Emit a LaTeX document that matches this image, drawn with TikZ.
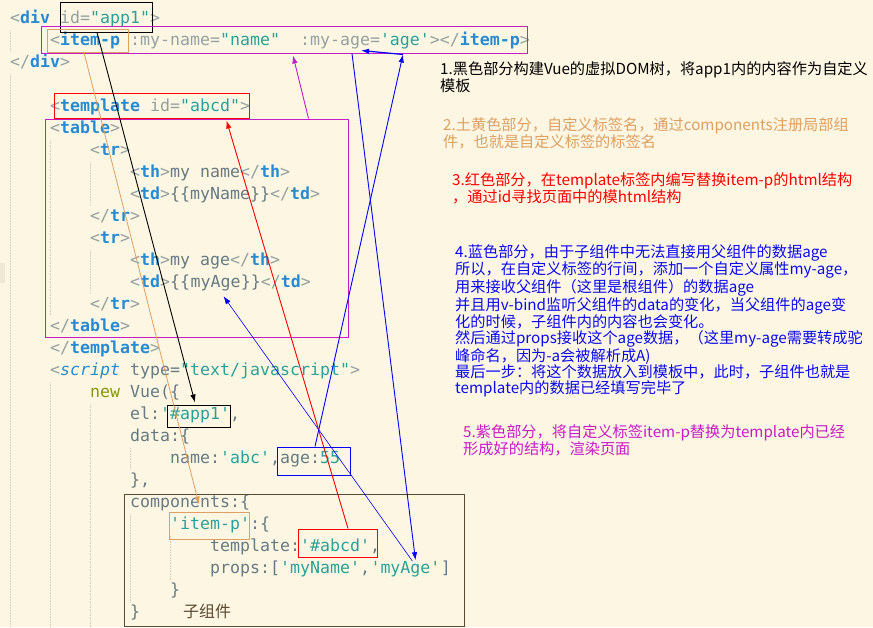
\documentclass[tikz,border=0pt]{standalone}
\usepackage{fontspec}
\setmonofont{DejaVu Sans Mono}
\newfontfamily\cjk{Noto Sans CJK SC}
\usepackage{xcolor}
\usetikzlibrary{arrows.meta, positioning}
\definecolor{paper}{HTML}{FDF6E3}
\definecolor{curline}{HTML}{EEE8D5}
\definecolor{guidegray}{HTML}{D3CDBB}
\definecolor{punct}{HTML}{93A1A1}
\definecolor{tagblue}{HTML}{268BD2}
\definecolor{strteal}{HTML}{2AA198}
\definecolor{plaingray}{HTML}{657B83}
\definecolor{kwolive}{HTML}{859900}
\definecolor{sandy}{HTML}{DDA062}
\definecolor{violetpart}{HTML}{C71BC7}
\definecolor{bluepart}{HTML}{0A0AF0}
\definecolor{brownbox}{HTML}{5A4A30}
\newcommand\cpu[1]{\textcolor{punct}{#1}}
\newcommand\ctag[1]{\textcolor{tagblue}{\bfseries #1}}
\newcommand\cstr[1]{\textcolor{strteal}{#1}}
\newcommand\cpl[1]{\textcolor{plaingray}{#1}}
\begin{document}
\begin{tikzpicture}[x=1pt, y=-1pt, >={Latex[length=8pt,width=5.5pt]},
  codeline/.style={anchor=base west, inner sep=0pt, font=\ttfamily\fontsize{16.6}{20}\selectfont},
  remark/.style={anchor=north west, inner sep=0pt, align=left, font=\cjk\fontsize{15.2}{16}\selectfont},
  markbox/.style={draw, line width=1pt, inner sep=0pt},
  pointer/.style={->, line width=0.9pt},
  guide/.style={draw=guidegray, densely dotted, line width=0.6pt}]
\useasboundingbox (0,0) rectangle (873,627);
\fill[paper] (0,0) rectangle (873,627);
\fill[curline] (0,263) rectangle (5,283);
\draw[guide] (10,30) -- (10,52);
\draw[guide] (10,74) -- (10,627);
\draw[guide] (50,140) -- (50,315);
\draw[guide] (50,382) -- (50,627);
\draw[guide] (90,162) -- (90,205);
\draw[guide] (90,250) -- (90,293);
\draw[guide] (90,404) -- (90,627);
\draw[guide] (130,448) -- (130,470);
\draw[guide] (130,514) -- (130,603);
\draw[guide] (170,536) -- (170,580);
% code
\node[codeline] (l1) at (10,23.5) {\cpu{<}\ctag{div} \cpu{id=}\cstr{"app1"}\cpu{>}};
\node[codeline] (l2) at (50,45.5) {\cpu{<}\ctag{item-p} \cpu{:my-name=}\cstr{"name"}\ \ \cpu{:my-age=}\cstr{'age'}\cpu{></}\ctag{item-p}\cpu{>}};
\node[codeline] (l3) at (10,67.5) {\cpu{</}\ctag{div}\cpu{>}};
\node[codeline] (l5) at (50,111.5) {\cpu{<}\ctag{template} \cpu{id=}\cstr{"abcd"}\cpu{>}};
\node[codeline] (l6) at (50,133.5) {\cpu{<}\ctag{table}\cpu{>}};
\node[codeline] (l7) at (90,155.5) {\cpu{<}\ctag{tr}\cpu{>}};
\node[codeline] (l8) at (130,177.5) {\cpu{<}\ctag{th}\cpu{>}\cpl{my name}\cpu{</}\ctag{th}\cpu{>}};
\node[codeline] (l9) at (130,199.5) {\cpu{<}\ctag{td}\cpu{>}\cpl{\{\{myName\}\}}\cpu{</}\ctag{td}\cpu{>}};
\node[codeline] (l10) at (90,221.5) {\cpu{</}\ctag{tr}\cpu{>}};
\node[codeline] (l11) at (90,243.5) {\cpu{<}\ctag{tr}\cpu{>}};
\node[codeline] (l12) at (130,265.5) {\cpu{<}\ctag{th}\cpu{>}\cpl{my age}\cpu{</}\ctag{th}\cpu{>}};
\node[codeline] (l13) at (130,287.5) {\cpu{<}\ctag{td}\cpu{>}\cpl{\{\{}};
\node[codeline, base right=0pt of l13] (tdage) {\cpl{myAge}};
\node[codeline, base right=0pt of tdage] (l13b) {\cpl{\}\}}\cpu{</}\ctag{td}\cpu{>}};
\node[codeline] (l14) at (90,309.5) {\cpu{</}\ctag{tr}\cpu{>}};
\node[codeline] (l15) at (50,331.5) {\cpu{</}\ctag{table}\cpu{>}};
\node[codeline] (l16) at (50,353.5) {\cpu{</}\ctag{template}\cpu{>}};
\node[codeline] (l17) at (50,375.5) {\cpu{<}\textcolor{tagblue}{\itshape script} \cpl{type=}\cstr{"text/javascript"}\cpu{>}};
\node[codeline] (l18) at (90,397.5) {\textcolor{kwolive}{new} \cpl{Vue(\{}};
\node[codeline] (l19) at (130,419.5) {\cpl{el:}\cstr{'\#app1'}\cpl{,}};
\node[codeline] (l20) at (130,441.5) {\cpl{data:\{}};
\node[codeline] (l21) at (170,463.5) {\cpl{name:}\cstr{'abc'}\cpl{,age:}\cstr{55}};
\node[codeline] (l22) at (130,485.5) {\cpl{\},}};
\node[codeline] (l23) at (130,507.5) {\cpl{components:\{}};
\node[codeline] (l24) at (170,529.5) {\cstr{'item-p'}\cpl{:\{}};
\node[codeline] (l25) at (210,551.5) {\cpl{template:}\cstr{'\#abcd'}\cpl{,}};
\node[codeline] (l26) at (210,573.5) {\cpl{props:[}\cstr{'myName'}\cpl{,}};
\node[codeline, base right=0pt of l26] (propage) {\cstr{'myAge'}};
\node[codeline, base right=0pt of propage] (l26b) {\cpl{]}};
\node[codeline] (l27) at (170,595.5) {\cpl{\}}};
\node[codeline] (l28) at (130,617.5) {\cpl{\}}};
\node[anchor=base west, inner sep=0pt, font=\cjk\fontsize{16}{16}\selectfont, text=brownbox] (sub) at (183,617.5) {子组件};
% boxes
\node[markbox, draw=black, minimum width=92pt, minimum height=30pt] (appbox) at (106,17) {};
\node[markbox, draw=violetpart, minimum width=486pt, minimum height=27pt] (itembar) at (284,39.5) {};
\node[markbox, draw=sandy, minimum width=81pt, minimum height=23pt] (itemtag) at (87.5,40.5) {};
\node[markbox, draw=red, minimum width=195pt, minimum height=25pt] (tplid) at (151.5,105.5) {};
\node[markbox, draw=violetpart, minimum width=303pt, minimum height=218pt] (tablebox) at (196.5,228) {};
\node[markbox, draw=black, minimum width=63pt, minimum height=22pt] (elbox) at (198.5,416) {};
\node[markbox, draw=blue, minimum width=73pt, minimum height=28pt] (agebox) at (313.5,461) {};
\node[markbox, draw=brownbox, minimum width=340pt, minimum height=132pt] (compbox) at (294,560) {};
\node[markbox, draw=sandy, minimum width=80pt, minimum height=27pt] (itemname) at (209,525.5) {};
\node[markbox, draw=red, minimum width=79pt, minimum height=28pt] (tplref) at (337.5,543) {};
% notes
\node[remark] (n1) at (440,61) {1.黑色部分构建Vue的虚拟DOM树，将app1内的内容作为自定义\\模板};
\node[remark, text=sandy] (n2) at (443,117) {2.土黄色部分，自定义标签名，通过components注册局部组\\件，也就是自定义标签的标签名};
\node[remark, text=red] (n3) at (452,172) {3.红色部分，在template标签内编写替换item-p的html结构\\，通过id寻找页面中的模html结构};
\node[remark, text=bluepart] (n4) at (455,244) {4.蓝色部分，由于子组件中无法直接用父组件的数据age\\所以，在自定义标签的行间，添加一个自定义属性my-age，\\用来接收父组件（这里是根组件）的数据age\\并且用v-bind监听父组件的data的变化，当父组件的age变\\化的时候，子组件内的内容也会变化。\\然后通过props接收这个age数据，（这里my-age需要转成驼\\峰命名，因为-a会被解析成A)\\最后一步：将这个数据放入到模板中，此时，子组件也就是\\template内的数据已经填写完毕了};
\node[remark, text=violetpart] (n5) at (463,424) {5.紫色部分，将自定义标签item-p替换为template内已经\\形成好的结构，渲染页面};
% arrows
\coordinate (agein) at ([xshift=119pt,yshift=-1pt]itembar.south);
\draw[pointer, black] ([xshift=-9pt]appbox.south) -- ([xshift=-3.5pt,yshift=2pt]elbox.north);
\draw[pointer, sandy, line width=0.8pt] ([xshift=-3.5pt]itemtag.south) -- ([xshift=-10pt,yshift=7pt]itemname.north);
\draw[pointer, violetpart] ([xshift=-40pt]tablebox.north east) -- ([xshift=9pt,yshift=-2pt]itembar.south);
\draw[pointer, red] ([xshift=10.5pt]tplref.north) -- ([xshift=75pt,yshift=-2pt]tplid.south);
\draw[pointer, blue] ([xshift=1.5pt]agebox.north) -- (agein);
\draw[pointer, blue, line width=1.2pt] (agein) -- ([xshift=77pt,yshift=3pt]itembar.south);
\draw[pointer, blue] ([xshift=68pt]itembar.south) -- ([xshift=10pt,yshift=1pt]propage.north);
\draw[pointer, blue, line width=0.6pt] ([xshift=7pt]propage.north) -- ([xshift=8pt,yshift=-5pt]tdage.south);
\end{tikzpicture}
\end{document}
